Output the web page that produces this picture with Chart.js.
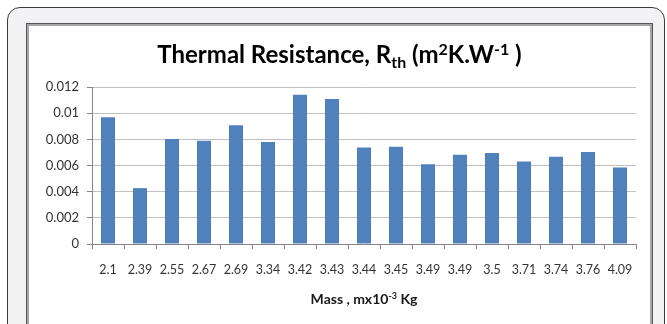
<!DOCTYPE html>
<html>
<head>
<meta charset="utf-8">
<script src="https://cdn.jsdelivr.net/npm/chart.js@4/dist/chart.umd.min.js"></script>
<style>
  html, body { margin: 0; padding: 0; background: #fff; }
  body { width: 667px; height: 324px; position: relative; overflow: hidden; font-family: Lato, sans-serif; }
  .outer {
    position: absolute; left: 7px; top: 7px; width: 656px; height: 360px;
    border: 1px solid #3a3a3a; border-radius: 13px; background: #f2f2f4;
  }
  .inner {
    position: absolute; left: 26px; top: 23px; width: 625px; height: 360px;
    border: 1px solid #555; box-shadow: inset 0 0 0 2px #a6a6a6; background: #fff;
  }
  #chart { position: absolute; left: 0; top: 0; }
</style>
</head>
<body>
<div class="outer"></div>
<div class="inner"></div>
<canvas id="chart" width="667" height="324"></canvas>
<script>
// masses (x10^-3 kg) and thermal resistance values
const masses = ["2.1", "2.39", "2.55", "2.67", "2.69", "3.34", "3.42", "3.43", "3.44",
  "3.45", "3.49", "3.49", "3.5", "3.71", "3.74", "3.76", "4.09"];
const rth = [0.00968, 0.00427, 0.00802, 0.00789, 0.00907, 0.00779, 0.0114, 0.01109, 0.00738,
  0.00743, 0.0061, 0.00682, 0.00695, 0.00631, 0.00667, 0.00703, 0.00585];
const yTicks = [0, 0.002, 0.004, 0.006, 0.008, 0.01, 0.012];

// title pieces: [text, baseline shift, size factor]
const titleParts = [["Thermal Resistance, R", 0, 1], ["th", 5, 0.65], [" (m", 0, 1], ["2", -8, 0.65],
  ["K.W", 0, 1], ["-1", -8, 0.65], [" )", 0, 1]];
const axisTitleParts = [["Mass , mx10", 0, 1], ["-3", -5, 0.65], [" Kg", 0, 1]];

function drawRich(ctx, parts, cx, y, size, weight, color) {
  let total = 0;
  parts.forEach(p => {
    ctx.font = weight + " " + Math.round(size * p[2]) + "px Lato";
    total += ctx.measureText(p[0]).width;
  });
  let x = cx - total / 2;
  ctx.fillStyle = color;
  ctx.textBaseline = "alphabetic";
  ctx.textAlign = "left";
  parts.forEach(p => {
    ctx.font = weight + " " + Math.round(size * p[2]) + "px Lato";
    ctx.fillText(p[0], x, y + p[1]);
    x += ctx.measureText(p[0]).width;
  });
}

const richTitles = {
  id: "richTitles",
  afterDraw(chart) {
    const ctx = chart.ctx;
    ctx.save();
    drawRich(ctx, titleParts, 339.5, 63, 24, "bold", "#000");
    const area = chart.chartArea;
    drawRich(ctx, axisTitleParts, (area.left + area.right) / 2, 304, 13.5, "bold", "#1a1a1a");
    ctx.restore();
  }
};

new Chart(document.getElementById("chart"), {
  type: "bar",
  data: {
    labels: masses,
    datasets: [{
      data: rth,
      backgroundColor: "#4f81bd",
      borderWidth: 0,
      barPercentage: 0.44,
      categoryPercentage: 1
    }]
  },
  options: {
    responsive: false,
    animation: false,
    layout: { padding: { left: 30, right: 31, top: 87, bottom: 40 } },
    plugins: { legend: { display: false }, tooltip: { enabled: false } },
    scales: {
      x: {
        grid: { drawOnChartArea: false, color: "#868686", tickLength: 5 },
        border: { color: "#868686" },
        ticks: { color: "#333", font: { family: "Lato", size: 12.5 }, padding: 13, maxRotation: 0, autoSkip: false },
        afterFit: s => { s.height = 40; }
      },
      y: {
        min: 0,
        max: 0.012,
        afterBuildTicks: s => { s.ticks = yTicks.map(v => ({ value: v })); },
        grid: { color: "#c0c0c0", tickColor: "#868686", tickLength: 5 },
        border: { color: "#868686" },
        ticks: {
          color: "#333", font: { family: "Lato", size: 13 }, padding: 8,
          callback: v => v === 0 ? "0" : String(+v.toFixed(3))
        },
        afterFit: s => { s.width = 62; }
      }
    }
  },
  plugins: [richTitles]
});
</script>
</body>
</html>
